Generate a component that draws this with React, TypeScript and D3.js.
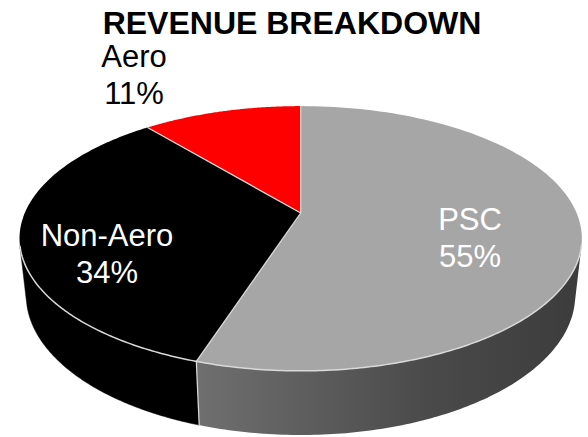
import React from 'react';
import * as d3 from 'd3';

// ---- data ----
const title = 'REVENUE BREAKDOWN';
const categories = ['PSC', 'Non-Aero', 'Aero'];
const shares = [55, 34, 11];
const shareLabels = ['55%', '34%', '11%'];

// ---- styling / layout (kept apart from data) ----
const topColors = ['#a6a6a6', '#000000', '#ff0000'];
const sideColors = ['url(#pscSide)', '#000000', '#b00000'];
const labelColors = ['#ffffff', '#ffffff', '#000000'];
const labelPos: [number, number][] = [
  [470, 230],
  [107, 246],
  [134, 67],
];
const W = 588;
const H = 437;

// perspective camera for the 3D pie
const X0 = 300.7;
const Y0 = 213;
const D = 4.61;
const sinA = 0.462;
const cosA = Math.sqrt(1 - sinA * sinA);
const F = 1272;
const depthH = 0.233;

function projXZ(X: number, Z: number, y: number): [number, number] {
  const d = D + Z * cosA - y * sinA;
  return [X0 + (F * X) / d, Y0 - (F * (y * cosA + Z * sinA)) / d];
}
function proj(theta: number, y: number): [number, number] {
  return projXZ(Math.sin(theta), Math.cos(theta), y);
}

// visible side range: cos(theta) < -1/(D cosA)
const visLimit = Math.acos(-1 / (D * cosA));
const visStart = visLimit;
const visEnd = 2 * Math.PI - visLimit;

function samples(a0: number, a1: number, n = 120): number[] {
  return d3.range(n + 1).map((i) => a0 + ((a1 - a0) * i) / n);
}

export default function App() {
  const pie = d3
    .pie<number>()
    .sort(null)
    .startAngle(0)
    .endAngle(2 * Math.PI)
    .value((d) => d);
  const arcs = pie(shares);
  const line = d3.line<[number, number]>();
  const apex = projXZ(0, 0, 0);

  const sides = arcs
    .map((a, i) => {
      const s = Math.max(a.startAngle, visStart);
      const e = Math.min(a.endAngle, visEnd);
      if (e <= s) return null;
      const top = samples(s, e).map((t) => proj(t, 0));
      const bot = samples(e, s).map((t) => proj(t, -depthH));
      return { i, d: line([...top, ...bot])! + 'Z' };
    })
    .filter(Boolean) as { i: number; d: string }[];

  const tops = arcs.map((a, i) => {
    const rim = samples(a.startAngle, a.endAngle).map((t) => proj(t, 0));
    return { i, d: line([apex, ...rim])! + 'Z' };
  });

  const rimFront = line(samples(visStart, visEnd, 240).map((t) => proj(t, 0)))!;

  const boundaryEdges = arcs
    .map((a) => a.startAngle)
    .filter((t) => t > visStart && t < visEnd)
    .map((t) => [proj(t, 0), proj(t, -depthH)] as [number, number][]);

  const radialEdges = arcs.map((a) => [apex, proj(a.startAngle, 0)] as [number, number][]);

  const font = "'Liberation Sans', Arial, Helvetica, sans-serif";

  return (
    <svg
      width={W}
      height={H}
      style={{ position: 'absolute', left: 0, top: 0, background: '#fff' }}
    >
      <defs>
        <linearGradient id="pscSide" gradientUnits="userSpaceOnUse" x1={198} y1={0} x2={582} y2={0}>
          <stop offset="0" stopColor="#6f6f6f" />
          <stop offset="0.6" stopColor="#4a4a4a" />
          <stop offset="1" stopColor="#3c3c3c" />
        </linearGradient>
      </defs>
      <rect width={W} height={H} fill="#fff" />
      {sides.map((s) => (
        <path key={'s' + s.i} d={s.d} fill={sideColors[s.i]} stroke={sideColors[s.i] === 'url(#pscSide)' ? 'none' : sideColors[s.i]} strokeWidth={0.5} />
      ))}
      {boundaryEdges.map((e, k) => (
        <path key={'b' + k} d={line(e)!} stroke="#d9d9d9" strokeWidth={1.3} fill="none" />
      ))}
      {tops.map((t) => (
        <path key={'t' + t.i} d={t.d} fill={topColors[t.i]} stroke="none" />
      ))}
      {radialEdges.map((e, k) => (
        <path key={'r' + k} d={line(e)!} stroke="#d9d9d9" strokeWidth={1.3} fill="none" />
      ))}
      <path d={rimFront} stroke="#d9d9d9" strokeWidth={1.5} fill="none" />
      <text
        x={292}
        y={34}
        textAnchor="middle"
        fontFamily={font}
        fontWeight="bold"
        fontSize={32}
        fill="#000"
      >
        {title}
      </text>
      {categories.map((c, i) => (
        <text
          key={'l' + i}
          x={labelPos[i][0]}
          y={labelPos[i][1]}
          textAnchor="middle"
          fontFamily={font}
          fontSize={31}
          fill={labelColors[i]}
        >
          <tspan x={labelPos[i][0]}>{c}</tspan>
          <tspan x={labelPos[i][0]} dy={37}>
            {shareLabels[i]}
          </tspan>
        </text>
      ))}
    </svg>
  );
}
